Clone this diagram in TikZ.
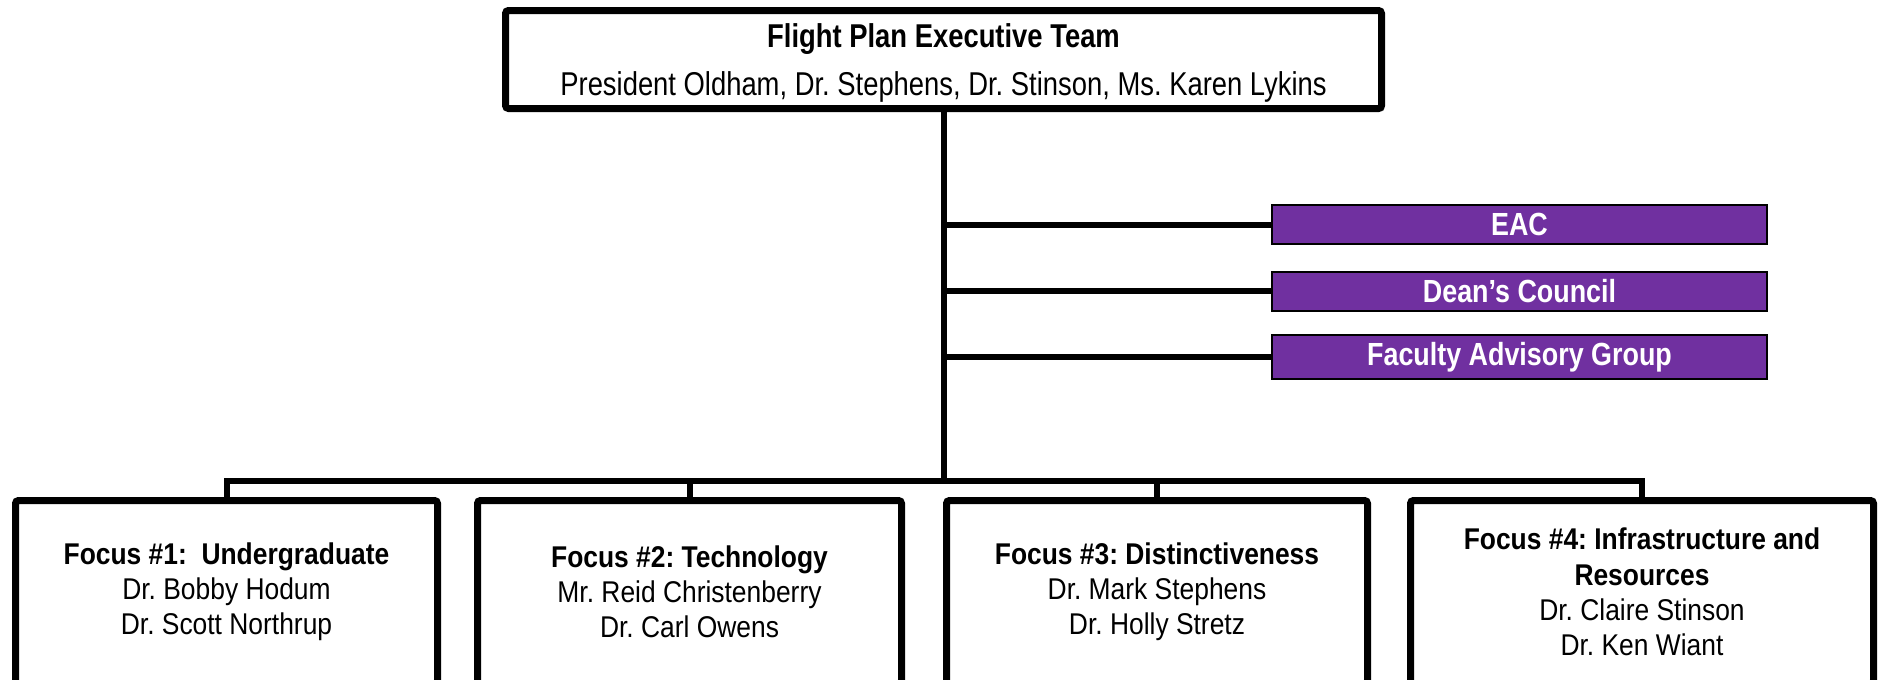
\documentclass[tikz,border=0pt]{standalone}
\usepackage{fontspec}
\setmainfont[FakeStretch=0.88]{Liberation Sans}
\newfontfamily\execfont[FakeStretch=0.83]{Liberation Sans}
\newfontfamily\councilfont[FakeStretch=0.84]{Liberation Sans}
\usetikzlibrary{calc,shadows}
\definecolor{councilpurple}{HTML}{7030A0}
\frenchspacing

\tikzset{
    boxshadow/.style={drop shadow={shadow xshift=1.5pt, shadow yshift=-1.5pt, opacity=0.3, fill=black!70}},
    execbox/.style={draw, line width=3.5pt, rounded corners=1.5pt, fill=white, boxshadow,
        align=center, text depth=0pt, minimum width=438pt, minimum height=49pt, font=\execfont\fontsize{16.5}{24}\selectfont},
    focusbox/.style={draw, line width=3.5pt, rounded corners=1.5pt, fill=white, boxshadow,
        align=center, minimum height=91.5pt, font=\fontsize{15}{17.6}\selectfont},
    councilbox/.style={draw, line width=1pt, fill=councilpurple, text=white,
        minimum width=247.5pt, minimum height=19.5pt, font=\councilfont\bfseries\fontsize{16}{19}\selectfont},
    link/.style={line width=3pt}
}

\begin{document}
\begin{tikzpicture}[x=0.5pt, y=-0.5pt]
    \useasboundingbox (0,0) rectangle (1881,680);
    \clip (0,0) rectangle (1881,680);

    \node (exec) at (943.5,59.5) [execbox] {\textbf{Flight Plan Executive Team}\\President Oldham, Dr. Stephens, Dr. Stinson, Ms. Karen Lykins};

    \node (eac) at (1519.5,224.5) [councilbox] {EAC};
    \node (dean) at (1519.5,291) [councilbox] {Dean’s Council};
    \node (fag) at (1519.5,357) [councilbox] {Faculty Advisory Group};

    \node (focA) at (226.5,592) [focusbox, minimum width=211pt] {\textbf{Focus \#1:\ \ Undergraduate}\\Dr. Bobby Hodum\\Dr. Scott Northrup};
    \node (focB) at (689.5,592) [focusbox, minimum width=212pt] {\textbf{Focus \#2: Technology}\\Mr. Reid Christenberry\\Dr. Carl Owens};
    \node (focC) at (1157,592) [focusbox, minimum width=210.5pt] {\textbf{Focus \#3: Distinctiveness}\\Dr. Mark Stephens\\Dr. Holly Stretz};
    \node (focD) at (1642,592) [focusbox, minimum width=231.5pt] {\textbf{Focus \#4: Infrastructure and}\\\textbf{Resources}\\Dr. Claire Stinson\\Dr. Ken Wiant};

    \coordinate (bus) at ($(exec.south) + (0,369)$);
    \draw [link] (exec.south) -- (bus);

    \foreach \n in {eac, dean, fag}
        {
            \draw [link] (\n.west) -- (\n.west -| exec.south);
        }

    \foreach \n in {focA, focB, focC, focD}
        {
            \draw [link] (\n.north) |- (bus);
        }

\end{tikzpicture}
\end{document}
